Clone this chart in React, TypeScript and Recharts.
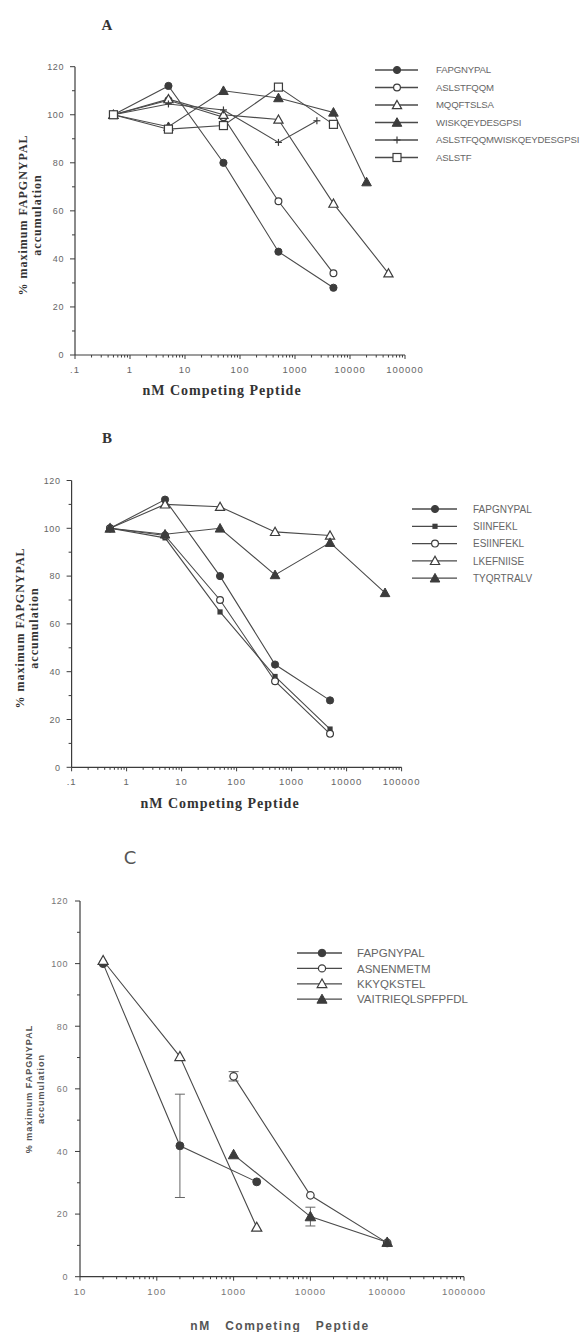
import React from 'react';
import { LineChart, Line, XAxis, YAxis, ErrorBar } from 'recharts';

// ---------- Panel A data ----------
const A_NAMES = ['FAPGNYPAL', 'ASLSTFQQM', 'MQQFTSLSA', 'WISKQEYDESGPSI', 'ASLSTFQQMWISKQEYDESGPSI', 'ASLSTF'];
const A_FAPGNYPAL_X = [0.5, 5, 50, 500, 5000];
const A_FAPGNYPAL_Y = [100, 112, 80, 43, 28];
const A_ASLSTFQQM_X = [0.5, 5, 50, 500, 5000];
const A_ASLSTFQQM_Y = [100, 106, 99, 64, 34];
const A_MQQFTSLSA_X = [0.5, 5, 50, 500, 5000, 50000];
const A_MQQFTSLSA_Y = [100, 106.5, 100, 98, 63, 34];
const A_WISK_X = [0.5, 5, 50, 500, 5000, 20000];
const A_WISK_Y = [100, 95, 110, 107, 101, 72];
const A_COMBO_X = [0.5, 5, 50, 500, 2500];
const A_COMBO_Y = [100, 104.5, 102, 88.5, 97.5];
const A_ASLSTF_X = [0.5, 5, 50, 500, 5000];
const A_ASLSTF_Y = [100, 94, 95.5, 111.5, 96];

// ---------- Panel B data ----------
const B_NAMES = ['FAPGNYPAL', 'SIINFEKL', 'ESIINFEKL', 'LKEFNIISE', 'TYQRTRALV'];
const B_FAPGNYPAL_X = [0.5, 5, 50, 500, 5000];
const B_FAPGNYPAL_Y = [100, 112, 80, 43, 28];
const B_SIINFEKL_X = [0.5, 5, 50, 500, 5000];
const B_SIINFEKL_Y = [100, 96, 65, 38, 16];
const B_ESIINFEKL_X = [0.5, 5, 50, 500, 5000];
const B_ESIINFEKL_Y = [100, 97, 70, 36, 14];
const B_LKEFNIISE_X = [0.5, 5, 50, 500, 5000];
const B_LKEFNIISE_Y = [100, 110, 109, 98.5, 97];
const B_TYQRTRALV_X = [0.5, 5, 50, 500, 5000, 50000];
const B_TYQRTRALV_Y = [100, 97.5, 100, 80.5, 94, 73];

// ---------- Panel C data ----------
const C_NAMES = ['FAPGNYPAL', 'ASNENMETM', 'KKYQKSTEL', 'VAITRIEQLSPFPFDL'];
const C_FAPGNYPAL_X = [20, 200, 2000];
const C_FAPGNYPAL_Y = [100, 41.8, 30.3];
const C_FAPGNYPAL_ERR = [0, 16.5, 0];
const C_ASNENMETM_X = [1000, 10000, 100000];
const C_ASNENMETM_Y = [64, 26, 10.8];
const C_ASNENMETM_ERR = [1.5, 0, 0];
const C_KKYQKSTEL_X = [20, 200, 2000];
const C_KKYQKSTEL_Y = [101, 70.3, 15.8];
const C_VAIT_X = [1000, 10000, 100000];
const C_VAIT_Y = [39, 19.2, 11];
const C_VAIT_ERR = [0, 3, 0];

// ---------- Axis ticks ----------
const AB_MAJOR_X = [0.1, 1, 10, 100, 1000, 10000, 100000];
const AB_X_LABELS = ['.1', '1', '10', '100', '1000', '10000', '100000'];
const C_MAJOR_X = [10, 100, 1000, 10000, 100000, 1000000];
const C_X_LABELS = ['10', '100', '1000', '10000', '100000', '1000000'];
const Y_TICKS = [0, 10, 20, 30, 40, 50, 60, 70, 80, 90, 100, 110, 120];
const Y_LABELED = [0, 20, 40, 60, 80, 100, 120];

type Shape = 'filledCircle' | 'openCircle' | 'openTriangle' | 'filledTriangle' | 'openSquare' | 'plus' | 'smallSquare';

const INK = '#3c3c3c';
const LINE = '#4a4a4a';

function Marker({ cx, cy, shape, s = 1 }: { cx: number; cy: number; shape: Shape; s?: number }) {
  if (cx == null || cy == null || isNaN(cx) || isNaN(cy)) return null;
  switch (shape) {
    case 'filledCircle':
      return <circle cx={cx} cy={cy} r={3.6 * s} fill={INK} stroke={INK} strokeWidth={1} />;
    case 'openCircle':
      return <circle cx={cx} cy={cy} r={3.4 * s} fill="#fff" stroke={INK} strokeWidth={1.2} />;
    case 'openTriangle':
      return (
        <polygon
          points={`${cx},${cy - 4.6 * s} ${cx - 4.6 * s},${cy + 3.6 * s} ${cx + 4.6 * s},${cy + 3.6 * s}`}
          fill="#fff" stroke={INK} strokeWidth={1.2}
        />
      );
    case 'filledTriangle':
      return (
        <polygon
          points={`${cx},${cy - 4.8 * s} ${cx - 4.8 * s},${cy + 3.8 * s} ${cx + 4.8 * s},${cy + 3.8 * s}`}
          fill={INK} stroke={INK} strokeWidth={1}
        />
      );
    case 'openSquare':
      return <rect x={cx - 4 * s} y={cy - 4 * s} width={8 * s} height={8 * s} fill="#fff" stroke={INK} strokeWidth={1.2} />;
    case 'plus':
      return (
        <g stroke={INK} strokeWidth={1.2}>
          <line x1={cx - 3.5} x2={cx + 3.5} y1={cy} y2={cy} />
          <line x1={cx} x2={cx} y1={cy - 3.5} y2={cy + 3.5} />
        </g>
      );
    case 'smallSquare':
      return <rect x={cx - 2.6} y={cy - 2.6} width={5.2} height={5.2} fill={INK} />;
  }
  return null;
}

type Series = { name: string; xs: number[]; ys: number[]; errs?: number[]; shape: Shape };

const SERIES_A: Series[] = [
  { name: A_NAMES[0], xs: A_FAPGNYPAL_X, ys: A_FAPGNYPAL_Y, shape: 'filledCircle' },
  { name: A_NAMES[1], xs: A_ASLSTFQQM_X, ys: A_ASLSTFQQM_Y, shape: 'openCircle' },
  { name: A_NAMES[2], xs: A_MQQFTSLSA_X, ys: A_MQQFTSLSA_Y, shape: 'openTriangle' },
  { name: A_NAMES[3], xs: A_WISK_X, ys: A_WISK_Y, shape: 'filledTriangle' },
  { name: A_NAMES[4], xs: A_COMBO_X, ys: A_COMBO_Y, shape: 'plus' },
  { name: A_NAMES[5], xs: A_ASLSTF_X, ys: A_ASLSTF_Y, shape: 'openSquare' },
];
const SERIES_B: Series[] = [
  { name: B_NAMES[0], xs: B_FAPGNYPAL_X, ys: B_FAPGNYPAL_Y, shape: 'filledCircle' },
  { name: B_NAMES[1], xs: B_SIINFEKL_X, ys: B_SIINFEKL_Y, shape: 'smallSquare' },
  { name: B_NAMES[2], xs: B_ESIINFEKL_X, ys: B_ESIINFEKL_Y, shape: 'openCircle' },
  { name: B_NAMES[3], xs: B_LKEFNIISE_X, ys: B_LKEFNIISE_Y, shape: 'openTriangle' },
  { name: B_NAMES[4], xs: B_TYQRTRALV_X, ys: B_TYQRTRALV_Y, shape: 'filledTriangle' },
];
const SERIES_C: Series[] = [
  { name: C_NAMES[0], xs: C_FAPGNYPAL_X, ys: C_FAPGNYPAL_Y, errs: C_FAPGNYPAL_ERR, shape: 'filledCircle' },
  { name: C_NAMES[1], xs: C_ASNENMETM_X, ys: C_ASNENMETM_Y, errs: C_ASNENMETM_ERR, shape: 'openCircle' },
  { name: C_NAMES[2], xs: C_KKYQKSTEL_X, ys: C_KKYQKSTEL_Y, shape: 'openTriangle' },
  { name: C_NAMES[3], xs: C_VAIT_X, ys: C_VAIT_Y, errs: C_VAIT_ERR, shape: 'filledTriangle' },
];

function minorTicks(majors: number[]): number[] {
  const out: number[] = [];
  majors.forEach((m, i) => {
    out.push(m);
    if (i < majors.length - 1) for (let k = 2; k <= 9; k++) out.push(m * k);
  });
  return out;
}

const makeXTick = (majors: number[], labels: string[], color: string) => (props: any) => {
  const { x, y, payload } = props;
  const v = payload.value;
  const idx = majors.findIndex((m) => Math.abs(m - v) / m < 1e-6);
  const major = idx >= 0;
  return (
    <g>
      <line x1={x} x2={x} y1={y} y2={y + (major ? 4 : 2.5)} stroke={INK} strokeWidth={1} />
      {major && (
        <text x={x} y={y + 18} textAnchor="middle" fontFamily="Liberation Sans, Arial, sans-serif" fontSize={9.5}
          fill={color} letterSpacing={1}>
          {labels[idx]}
        </text>
      )}
    </g>
  );
};

const makeYTick = (color: string, gap: number) => (props: any) => {
  const { x, y, payload } = props;
  const v = payload.value;
  const major = Y_LABELED.includes(v);
  return (
    <g>
      <line x1={x - (major ? 5 : 3)} x2={x} y1={y} y2={y} stroke={INK} strokeWidth={1} />
      {major && (
        <text x={x - gap} y={y + 3.3} textAnchor="end" fontFamily="Liberation Sans, Arial, sans-serif" fontSize={9}
          fill={color} letterSpacing={0.6}>
          {v}
        </text>
      )}
    </g>
  );
};

type PanelProps = {
  top: number; height: number; margin: { top: number; right: number; bottom: number; left: number };
  domain: [number, number]; majors: number[]; labels: string[]; series: Series[]; labelColor: string; ygap: number; ms: number;
};

function Panel({ top, height, margin, domain, majors, labels, series, labelColor, ygap, ms }: PanelProps) {
  return (
    <div style={{ position: 'absolute', left: 0, top, width: 587, height }}>
      <LineChart width={587} height={height} margin={margin}>
        <XAxis dataKey="x" type="number" scale="log" domain={domain} allowDataOverflow ticks={minorTicks(majors)}
          interval={0} tickLine={false} tickSize={0} tickMargin={0} height={10}
          axisLine={{ stroke: INK, strokeWidth: 1.2 }} tick={makeXTick(majors, labels, labelColor)} />
        <YAxis type="number" domain={[0, 120]} ticks={Y_TICKS} interval={0} tickLine={false} tickSize={0} tickMargin={0}
          width={10} axisLine={{ stroke: INK, strokeWidth: 1.2 }} tick={makeYTick(labelColor, ygap)} />
        {series.map((s) => (
          <Line key={s.name} data={s.xs.map((x, i) => ({ x, y: s.ys[i], err: s.errs ? s.errs[i] : 0 }))}
            dataKey="y" type="linear" stroke={LINE} strokeWidth={1.1} isAnimationActive={false}
            dot={(p: any) => <Marker key={`${s.name}-${p.index}`} cx={p.cx} cy={p.cy} shape={s.shape} s={ms} />}
            activeDot={false}>
            {s.errs && <ErrorBar dataKey="err" direction="y" width={5} strokeWidth={1} stroke="#666" />}
          </Line>
        ))}
      </LineChart>
    </div>
  );
}

function Legend({ series, x1, x2, xm, xt, y0, dy, fontSize, ms, ls = 0 }: { series: Series[]; x1: number; x2: number; xm: number; xt: number; y0: number; dy: number; fontSize: number; ms: number; ls?: number }) {
  return (
    <g>
      {series.map((s, i) => {
        const y = y0 + i * dy;
        return (
          <g key={s.name}>
            <line x1={x1} x2={x2} y1={y} y2={y} stroke={LINE} strokeWidth={1.3} />
            <Marker cx={xm} cy={y} shape={s.shape} s={ms} />
            <text x={xt} y={y + fontSize * 0.36} fontFamily="Liberation Sans, Arial, sans-serif" fontSize={fontSize}
              letterSpacing={ls} fill="#666">
              {s.name}
            </text>
          </g>
        );
      })}
    </g>
  );
}

const serifBold = { fontFamily: 'Liberation Serif, Times New Roman, serif', fontWeight: 700 as const };

export default function App() {
  return (
    <div style={{ position: 'absolute', left: 0, top: 0, width: 587, height: 1332, background: '#fff', overflow: 'hidden' }}>
      <Panel top={0} height={400} margin={{ top: 66.7, right: 182, bottom: 35, left: 65 }} domain={[0.1, 100000]}
        majors={AB_MAJOR_X} labels={AB_X_LABELS} series={SERIES_A} labelColor="#666" ygap={11} ms={1} />
      <Panel top={420} height={400} margin={{ top: 60.5, right: 185.4, bottom: 42.7, left: 61.6 }} domain={[0.1, 100000]}
        majors={AB_MAJOR_X} labels={AB_X_LABELS} series={SERIES_B} labelColor="#666" ygap={11} ms={1} />
      <Panel top={840} height={492} margin={{ top: 61, right: 123, bottom: 45.3, left: 70 }} domain={[10, 1000000]}
        majors={C_MAJOR_X} labels={C_X_LABELS} series={SERIES_C} labelColor="#777" ygap={12} ms={1.1} />

      <svg width={587} height={1332} style={{ position: 'absolute', left: 0, top: 0, pointerEvents: 'none' }}>
        {/* Panel A */}
        <text x={107} y={30} textAnchor="middle" fontSize={15} fill="#333" {...serifBold}>A</text>
        <text transform="translate(27,215) rotate(-90)" textAnchor="middle" fontSize={12} letterSpacing={1} fill="#333" {...serifBold}>% maximum FAPGNYPAL</text>
        <text transform="translate(41,215) rotate(-90)" textAnchor="middle" fontSize={12} letterSpacing={1} fill="#333" {...serifBold}>accumulation</text>
        <text x={222} y={395} textAnchor="middle" fontSize={14} letterSpacing={1} fill="#333" {...serifBold}>nM Competing Peptide</text>
        <Legend series={SERIES_A} x1={375} x2={418} xm={397} xt={436} y0={70} dy={17.5} fontSize={9.6} ls={-0.15} ms={1} />

        {/* Panel B */}
        <text x={107} y={443} textAnchor="middle" fontSize={15} fill="#333" {...serifBold}>B</text>
        <text transform="translate(24,628) rotate(-90)" textAnchor="middle" fontSize={12} letterSpacing={1} fill="#333" {...serifBold}>% maximum FAPGNYPAL</text>
        <text transform="translate(38,628) rotate(-90)" textAnchor="middle" fontSize={12} letterSpacing={1} fill="#333" {...serifBold}>accumulation</text>
        <text x={220} y={808} textAnchor="middle" fontSize={14} letterSpacing={1} fill="#333" {...serifBold}>nM Competing Peptide</text>
        <Legend series={SERIES_B} x1={412} x2={457} xm={435} xt={473} y0={509} dy={17.3} fontSize={10} ms={1} />

        {/* Panel C */}
        <text x={130} y={864} textAnchor="middle" fontSize={18} fill="#555" fontFamily="DejaVu Sans, sans-serif">C</text>
        <text transform="translate(32,1089) rotate(-90)" textAnchor="middle" fontSize={9} fontWeight={700} letterSpacing={1} fill="#555" fontFamily="Liberation Sans, Arial, sans-serif">% maximum FAPGNYPAL</text>
        <text transform="translate(44,1089) rotate(-90)" textAnchor="middle" fontSize={9} fontWeight={700} letterSpacing={1} fill="#555" fontFamily="Liberation Sans, Arial, sans-serif">accumulation</text>
        <text x={280} y={1330} textAnchor="middle" fontSize={12} fontWeight={700} letterSpacing={1.5} fill="#555" fontFamily="Liberation Sans, Arial, sans-serif" style={{ whiteSpace: 'pre' }}>{'nM   Competing   Peptide'}</text>
        <Legend series={SERIES_C} x1={297} x2={342} xm={322} xt={357} y0={953} dy={15.4} fontSize={11.5} ms={1.05} />
      </svg>
    </div>
  );
}
